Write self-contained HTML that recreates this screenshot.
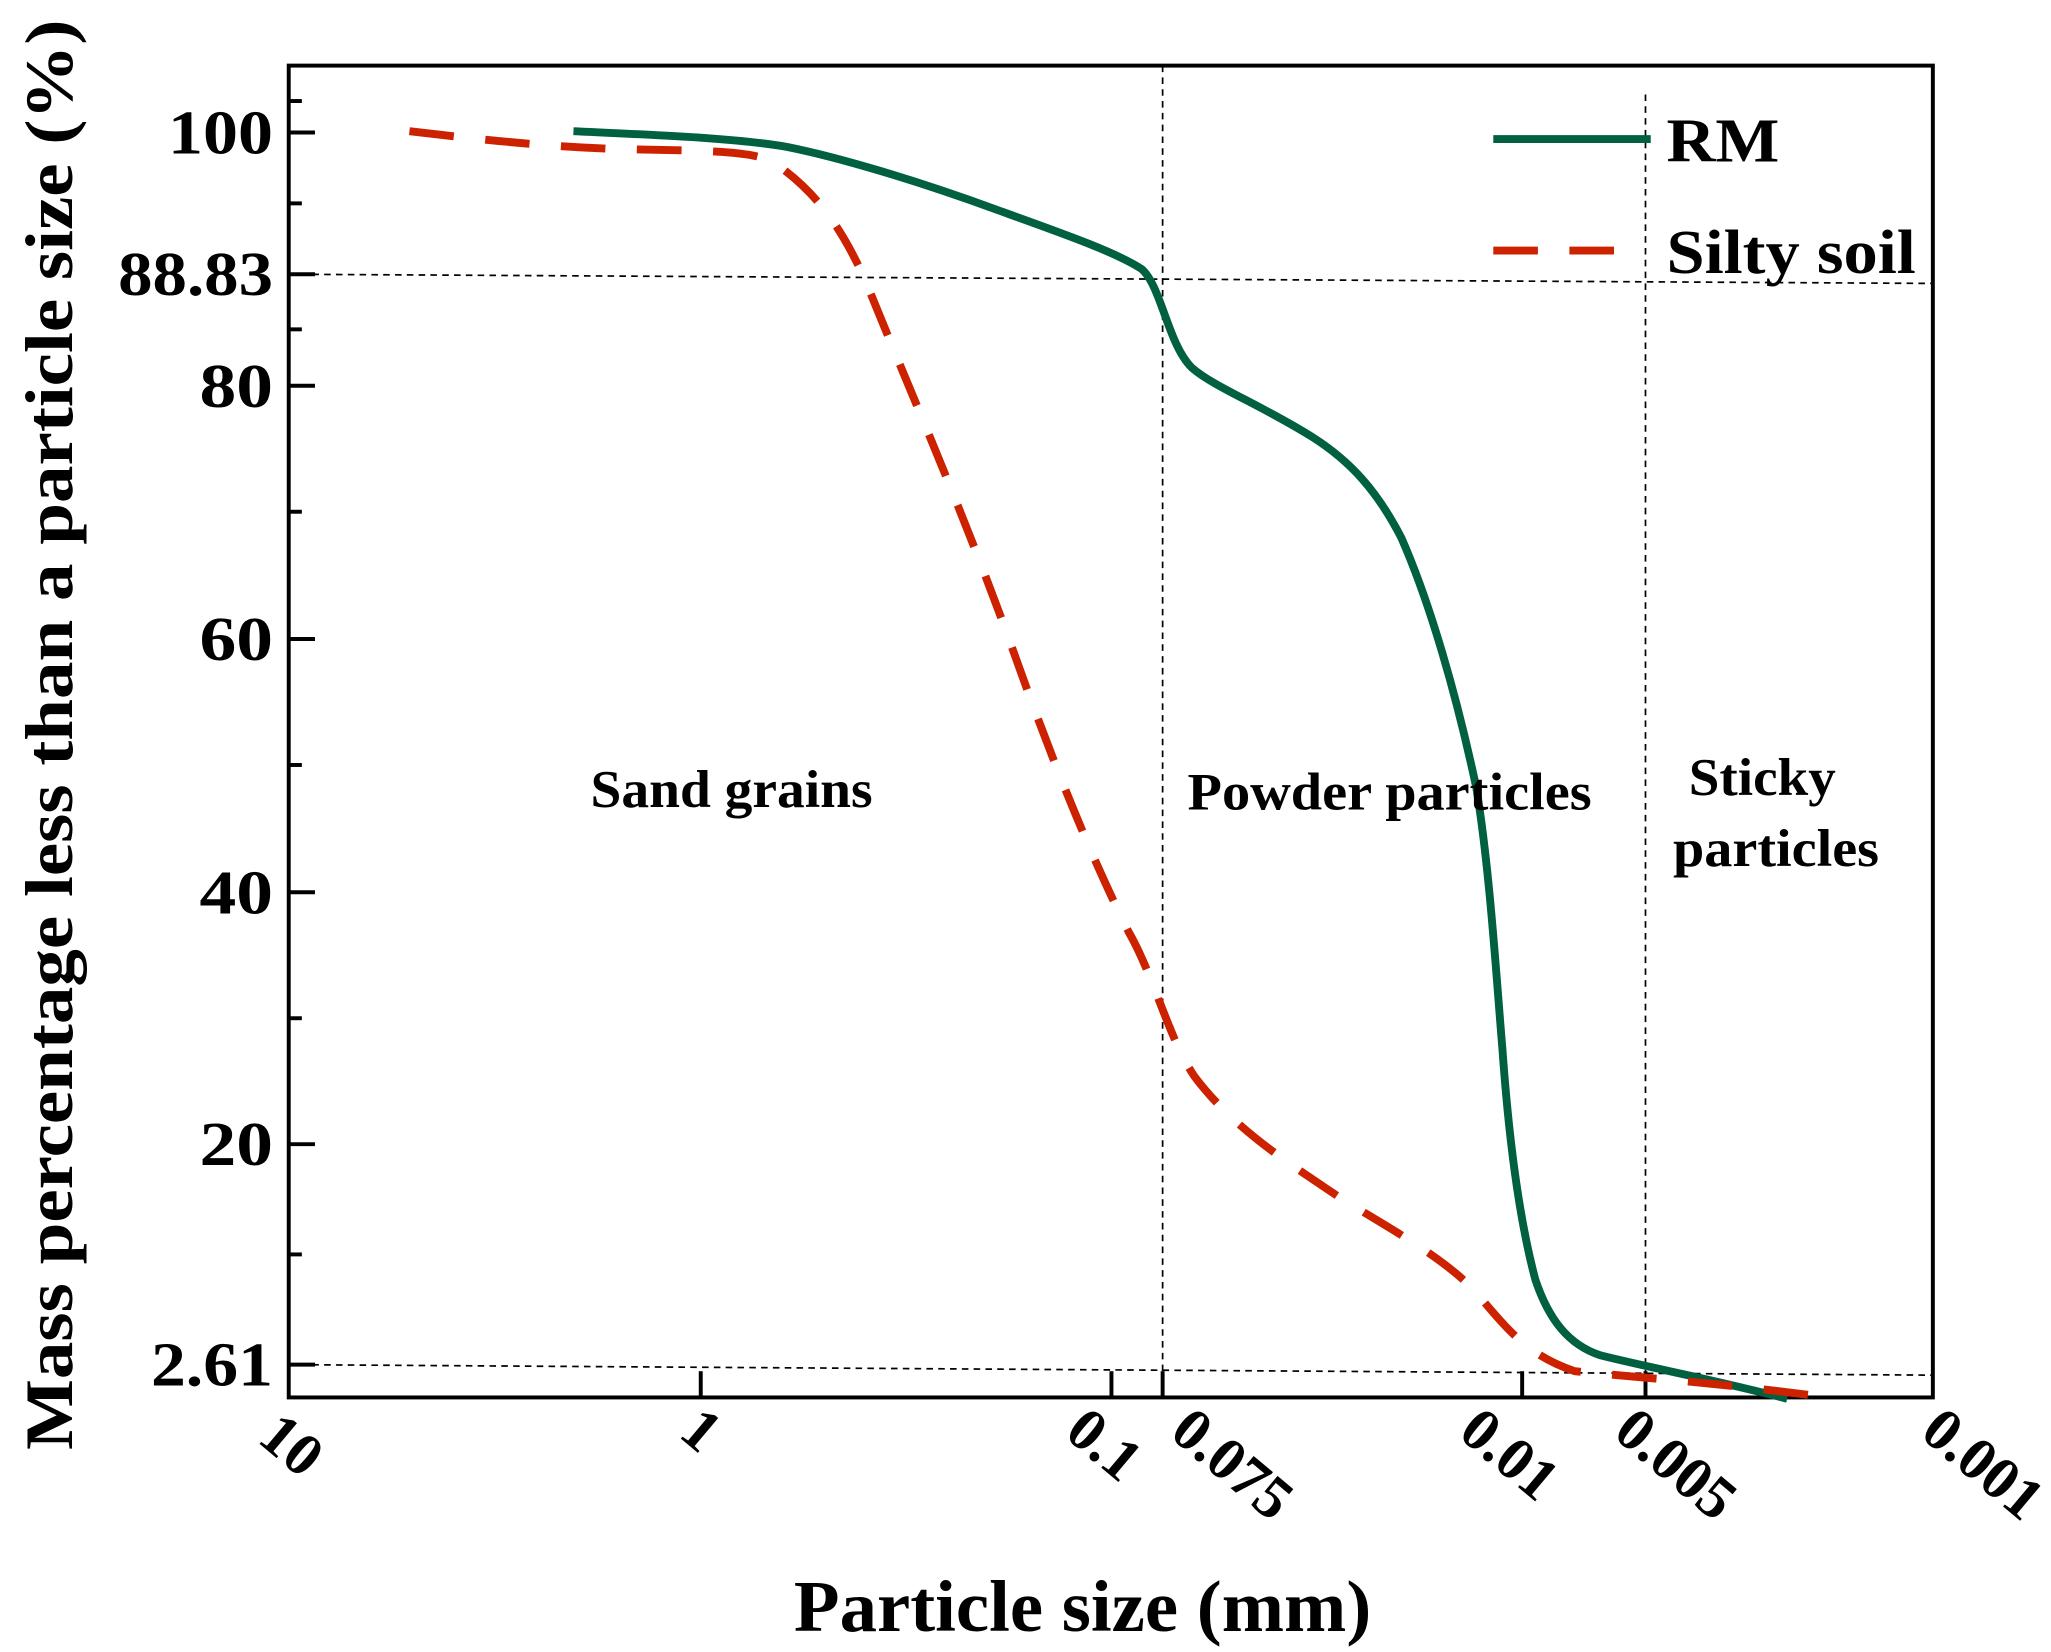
<!DOCTYPE html>
<html><head><meta charset="utf-8"><style>html,body{margin:0;padding:0;background:#fff}svg{display:block}</style></head>
<body>
<svg width="2051" height="1652" viewBox="0 0 1563 1259" xmlns="http://www.w3.org/2000/svg" font-family="Liberation Serif, serif" font-weight="bold">
<rect width="1563" height="1259" fill="#fff"/>
<g stroke="#000" stroke-width="1.3" stroke-dasharray="5,4" fill="none">
<line x1="886" y1="50" x2="886" y2="1065"/>
<line x1="1254" y1="72" x2="1254" y2="1065"/>
<line x1="220" y1="209" x2="1473" y2="216"/>
<line x1="220" y1="1040" x2="1473" y2="1048"/>
</g>
<rect x="220" y="50" width="1253" height="1015" fill="none" stroke="#000" stroke-width="3"/>
<g stroke="#000" stroke-width="3">
<line x1="220" y1="101" x2="240" y2="101"/><line x1="220" y1="294" x2="240" y2="294"/>
<line x1="220" y1="487" x2="240" y2="487"/><line x1="220" y1="680" x2="240" y2="680"/>
<line x1="220" y1="872" x2="240" y2="872"/><line x1="220" y1="209" x2="240" y2="209"/>
<line x1="220" y1="1040" x2="240" y2="1040"/>
<line x1="220" y1="77" x2="230" y2="77"/><line x1="220" y1="155" x2="230" y2="155"/>
<line x1="220" y1="251" x2="230" y2="251"/><line x1="220" y1="390" x2="230" y2="390"/>
<line x1="220" y1="583" x2="230" y2="583"/><line x1="220" y1="776" x2="230" y2="776"/>
<line x1="220" y1="956" x2="230" y2="956"/>
<line x1="534" y1="1045" x2="534" y2="1065"/><line x1="847" y1="1045" x2="847" y2="1065"/>
<line x1="886" y1="1045" x2="886" y2="1065"/><line x1="1160" y1="1045" x2="1160" y2="1065"/>
<line x1="1254" y1="1045" x2="1254" y2="1065"/>
</g>
<path d="M437,100 C500,103 560,105 600,112 C640,120 700,138 760,160 C810,178 850,192 870,205 C885,218 890,262 908,280 C925,295 960,308 1000,333 C1030,352 1050,375 1068,410 C1090,460 1110,530 1125,600 C1135,660 1140,740 1145,800 C1150,870 1158,930 1170,975 C1180,1005 1195,1025 1220,1033 C1260,1043 1300,1050 1362,1066" fill="none" stroke="#006040" stroke-width="6"/>
<path d="M312,100 C380,108 430,113 490,114 C540,115 575,115 590,124 C620,145 640,170 660,215 C690,290 730,380 770,490 C800,575 830,650 860,710 C880,745 890,790 910,820 C940,860 980,885 1020,912 C1060,937 1100,958 1125,985 C1150,1015 1165,1033 1200,1045 C1250,1050 1300,1053 1378,1063" fill="none" stroke="#cc2200" stroke-width="6" stroke-dasharray="34,24"/>
<line x1="1138" y1="106" x2="1258" y2="106" stroke="#006040" stroke-width="6"/>
<line x1="1138" y1="191" x2="1250" y2="191" stroke="#cc2200" stroke-width="6" stroke-dasharray="34,24"/>
<text x="1270" y="123" font-size="48" textLength="86" lengthAdjust="spacingAndGlyphs">RM</text>
<text x="1270" y="208" font-size="48" textLength="190" lengthAdjust="spacingAndGlyphs">Silty soil</text>
<g font-size="40" lengthAdjust="spacingAndGlyphs">
<text x="450" y="615" textLength="215" lengthAdjust="spacingAndGlyphs">Sand grains</text>
<text x="905" y="617" textLength="308" lengthAdjust="spacingAndGlyphs">Powder particles</text>
<text x="1287" y="606" textLength="112" lengthAdjust="spacingAndGlyphs">Sticky</text>
<text x="1275" y="660" textLength="157" lengthAdjust="spacingAndGlyphs">particles</text>
</g>
<g font-size="48" text-anchor="end">
<text x="208" y="117" textLength="80" lengthAdjust="spacingAndGlyphs">100</text>
<text x="208" y="225" textLength="118" lengthAdjust="spacingAndGlyphs">88.83</text>
<text x="208" y="310" textLength="56" lengthAdjust="spacingAndGlyphs">80</text>
<text x="208" y="503" textLength="56" lengthAdjust="spacingAndGlyphs">60</text>
<text x="208" y="696" textLength="56" lengthAdjust="spacingAndGlyphs">40</text>
<text x="208" y="888" textLength="56" lengthAdjust="spacingAndGlyphs">20</text>
<text x="208" y="1056" textLength="93" lengthAdjust="spacingAndGlyphs">2.61</text>
</g>
<g font-size="46">
<text transform="translate(195,1098) rotate(40)">10</text>
<text transform="translate(516,1094) rotate(40)">1</text>
<text transform="translate(810,1094) rotate(40)">0.1</text>
<text transform="translate(890,1094) rotate(40)">0.075</text>
<text transform="translate(1110,1094) rotate(40)">0.01</text>
<text transform="translate(1228,1094) rotate(40)">0.005</text>
<text transform="translate(1462,1094) rotate(40)">0.001</text>
</g>
<text x="605" y="1243" font-size="56" textLength="440" lengthAdjust="spacingAndGlyphs">Particle size (mm)</text>
<text transform="translate(55,560) rotate(-90)" font-size="52" text-anchor="middle" textLength="1090" lengthAdjust="spacingAndGlyphs">Mass percentage less than a particle size (%)</text>
</svg>
</body></html>
